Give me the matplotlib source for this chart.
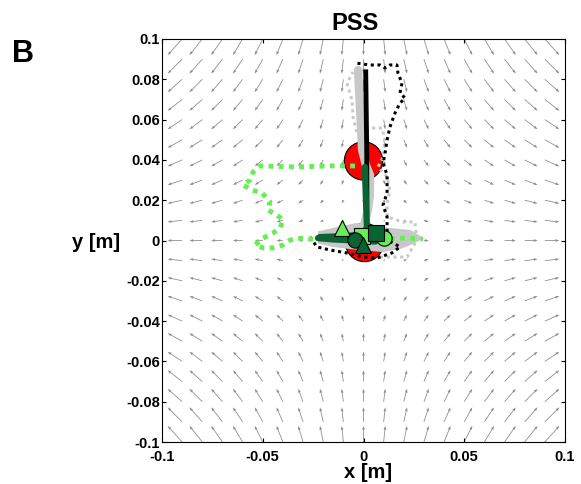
import numpy as np
import matplotlib.pyplot as plt
from matplotlib.patches import Circle, Polygon

plt.rcParams['font.family'] = ['Liberation Sans', 'DejaVu Sans']
plt.rcParams['font.weight'] = 'bold'

# force field grid (saddle: pushes out along x, pulls in along y)
grid = np.linspace(-0.1, 0.1, 21)
gain_x = 0.08
gain_y = 0.08

# start and target circles
home_xy = (0.0005, -0.001)
target_xy = (0.0, 0.0395)
radius = 0.0095

# grey spread of the trials around the start
blob_x = [-0.0216, -0.0151, -0.0032, 0.0032, 0.0131, 0.0231, 0.0280,
          0.0231, 0.0181, 0.0097, -0.0067, -0.0151, -0.0216]
blob_y = [0.0037, 0.0052, 0.0077, 0.0062, 0.0052, 0.0042, 0.0012,
          -0.0012, -0.0032, -0.0047, -0.0032, -0.0022, -0.0007]

# thick grey path
grey_x = [-0.0017, -0.0002, 0.0022, 0.0032, 0.0032, 0.0012, -0.0007, -0.0017, -0.0027]
grey_y = [0.0012, 0.0062, 0.0151, 0.0226, 0.0325, 0.0374, 0.0449, 0.0647, 0.0846]

# light grey dotted path
lgrey_x = [0.0082, 0.0216, 0.0265, 0.0255, 0.0196, 0.0117, 0.0117, 0.0131, 0.0117,
           0.0072, 0.0097, 0.0107, 0.0092, 0.0032, -0.0032, -0.0052, -0.0057,
           -0.0082, -0.0052]
lgrey_y = [-0.0082, -0.0082, 0.0002, 0.0092, 0.0092, 0.0117, 0.0186, 0.0250, 0.0315,
           0.0365, 0.0414, 0.0498, 0.0558, 0.0558, 0.0533, 0.0613, 0.0697,
           0.0781, 0.0836]

# black dotted path
bdot_x = [-0.0265, -0.0231, -0.0166, -0.0082, -0.0002, 0.0067, 0.0141, 0.0181,
          0.0122, 0.0117, 0.0117, 0.0097, 0.0117, 0.0117, 0.0117, 0.0097, 0.0107,
          0.0117, 0.0131, 0.0156, 0.0181, 0.0206, 0.0181, 0.0191, 0.0171, 0.0166,
          0.0131, 0.0107, 0.0082, 0.0032, -0.0032]
bdot_y = [0.0017, -0.0032, -0.0047, -0.0062, -0.0082, -0.0087, -0.0062, -0.0032,
          0.0002, 0.0052, 0.0117, 0.0176, 0.0236, 0.0285, 0.0325, 0.0384, 0.0434,
          0.0498, 0.0563, 0.0632, 0.0682, 0.0707, 0.0732, 0.0781, 0.0831, 0.0871,
          0.0871, 0.0856, 0.0871, 0.0871, 0.0880]

# thick black path
black_x = [0.0015, 0.0017, 0.0016, 0.0011]
black_y = [0.005, 0.02, 0.0449, 0.0837]

# light green dotted path
lgreen_x = [-0.0042, -0.0166, -0.0330, -0.0513, -0.0548, -0.0563, -0.0598, -0.0553,
            -0.0503, -0.0464, -0.0474, -0.0429, -0.0399, -0.0414, -0.0449, -0.0498,
            -0.0538, -0.0498, -0.0449, -0.0399, -0.0365, -0.0305, -0.0265, -0.0117,
            0.0082, 0.0216, 0.0295]
lgreen_y = [0.0370, 0.0370, 0.0365, 0.0370, 0.0340, 0.0300, 0.0275, 0.0250,
            0.0236, 0.0191, 0.0151, 0.0126, 0.0102, 0.0062, 0.0037, 0.0012,
            -0.0022, -0.0037, -0.0037, -0.0022, 0.0002, 0.0012, 0.0007, 0.0007,
            0.0007, 0.0012, 0.0007]

# thick dark green path
dgreen_x = [0.0007, 0.0012, 0.0017, 0.0, -0.0092, -0.0216, -0.0226, -0.015, -0.004, 0.006]
dgreen_y = [0.0365, 0.0201, 0.0067, 0.003, 0.0022, 0.0017, 0.0012, 0.0005, 0.0, -0.0005]

# end points
lg_tri = (-0.0105, 0.0061)
lg_circ = (0.0102, 0.0011)
lg_sq = (-0.0006, 0.0024)
dg_sq = (0.0062, 0.0036)
dg_circ = (-0.0042, 0.0002)
dg_tri = (-0.0004, -0.0022)

light_green = '#66ee55'
dark_green = '#0a6332'
light_grey = '#c8c8c8'

fig = plt.figure(figsize=(5.81, 4.84), dpi=100)
ax = fig.add_axes([162 / 581, 42 / 484, 403 / 581, 403 / 484])

X, Y = np.meshgrid(grid, grid)
ax.quiver(X, Y, gain_x * X, -gain_y * Y, angles='xy', scale_units='xy', scale=1,
          color='#8c8c8c', width=0.002, headwidth=3.5, headlength=5,
          headaxislength=4.5, zorder=1)

ax.add_patch(Circle(home_xy, radius, facecolor='red', edgecolor='black', lw=0.8, zorder=2))
ax.add_patch(Circle(target_xy, radius, facecolor='red', edgecolor='black', lw=0.8, zorder=2))
ax.add_patch(Polygon(np.column_stack([blob_x, blob_y]), closed=True,
                     facecolor=light_grey, edgecolor=light_grey, lw=3, zorder=3))

ax.plot(grey_x, grey_y, color=light_grey, lw=6, solid_capstyle='round', zorder=3)
ax.plot(lgrey_x, lgrey_y, color=light_grey, lw=2.2, ls=(0, (1, 1.2)), zorder=4)
ax.plot(bdot_x, bdot_y, color='black', lw=2.2, ls=(0, (1, 1.2)), zorder=5)
ax.plot(black_x, black_y, color='black', lw=3.5, zorder=5)
ax.plot(lgreen_x, lgreen_y, color=light_green, lw=3.5, ls=(0, (1, 1.1)), zorder=6)
ax.plot(dgreen_x, dgreen_y, color=dark_green, lw=4.5, solid_capstyle='round', zorder=7)

mk = dict(ms=11, mec='black', mew=0.8, ls='none', zorder=8)
ax.plot(*lg_tri, marker='^', mfc=light_green, **mk)
ax.plot(*lg_circ, marker='o', mfc=light_green, **mk)
ax.plot(*lg_sq, marker='s', mfc=light_green, **mk)
ax.plot(*dg_sq, marker='s', mfc=dark_green, **mk)
ax.plot(*dg_circ, marker='o', mfc=dark_green, **mk)
ax.plot(*dg_tri, marker='^', mfc=dark_green, **mk)

ax.set_xlim(-0.1, 0.1)
ax.set_ylim(-0.1, 0.1)
ax.set_xticks([-0.1, -0.05, 0, 0.05, 0.1])
ax.set_xticklabels(['-0.1', '-0.05', '0', '0.05', '0.1'])
yt = np.round(np.arange(-0.1, 0.1001, 0.02), 2)
ax.set_yticks(yt)
ax.set_yticklabels(['0' if v == 0 else f'{v:g}' for v in yt])
ax.tick_params(direction='in', length=3, width=0.8, top=True, right=True, labelsize=10.5)
ax.tick_params(axis='x', pad=5.5)
ax.tick_params(axis='y', pad=1.5)
for s in ax.spines.values():
    s.set_linewidth(0.8)

ax.set_xlabel('x [m]', fontsize=14.5, fontweight='bold', va='top')
ax.xaxis.set_label_coords(0.511, -0.052)
ax.set_ylabel('y [m]', fontsize=14.5, fontweight='bold', rotation=0, ha='right', va='center')
ax.yaxis.set_label_coords(-0.104, 0.494)

ax.text(0.478, 1.022, 'PSS', transform=ax.transAxes, ha='center', va='baseline',
        fontsize=17, fontweight='bold')
fig.text(12 / 581, 1 - 62 / 484, 'B', fontsize=22, fontweight='bold', ha='left', va='baseline')

fig.savefig('out.png', dpi=100)
